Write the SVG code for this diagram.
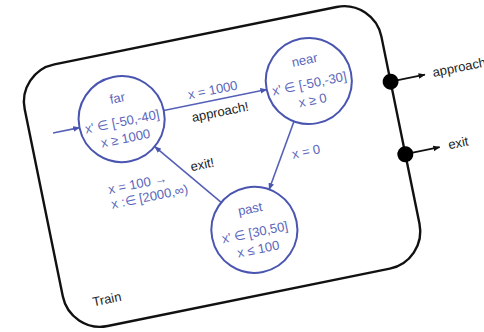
<svg xmlns="http://www.w3.org/2000/svg" width="484" height="332" viewBox="0 0 484 332">
<defs>
<style>
.box{fill:#fff;stroke:#111;stroke-width:2.4}
.loc{fill:none;stroke:#4a55b0;stroke-width:2}
.edge{fill:none;stroke:#5560b8;stroke-width:1.6}
.port{fill:none;stroke:#111;stroke-width:1.8}
.t{font-family:"Liberation Sans",Arial,sans-serif;font-size:13px}
.b{fill:#5a66bb}
.k{fill:#222}
.c{text-anchor:middle}
</style>
<marker id="ab" viewBox="0 0 10 10" refX="9" refY="5" markerWidth="7" markerHeight="7" markerUnits="userSpaceOnUse" orient="auto"><path d="M0,1 L10,5 L0,9 Z" fill="#4a55b0"/></marker>
<marker id="ak" viewBox="0 0 10 10" refX="9" refY="5" markerWidth="7" markerHeight="7" markerUnits="userSpaceOnUse" orient="auto"><path d="M0,1 L10,5 L0,9 Z" fill="#111"/></marker>
</defs>
<rect width="484" height="332" fill="#fff"/>
<g transform="rotate(-11.5 222 166)">
<g id="train">
<rect class="box" x="40" y="33" width="364" height="267" rx="38"/>
<text class="t k" x="68" y="278">Train</text>
</g>
<g id="connectors">
<line class="edge" x1="63" y1="100" x2="90" y2="100" marker-end="url(#ab)"/>
<line class="edge" x1="176" y1="100" x2="281" y2="100" marker-end="url(#ab)"/>
<line class="edge" x1="301.5" y1="136.6" x2="263.5" y2="198.4" marker-end="url(#ab)"/>
<line class="edge" x1="214" y1="201.4" x2="160" y2="133.6" marker-end="url(#ab)"/>
<line class="port" x1="404" y1="117" x2="439" y2="117" marker-end="url(#ak)"/>
<line class="port" x1="404" y1="191" x2="439" y2="191" marker-end="url(#ak)"/>
<text class="t b c" x="228" y="94">x = 1000</text>
<text class="t k c" x="231" y="117">approach!</text>
<text class="t b" x="293" y="173">x = 0</text>
<text class="t k c" x="203" y="165">exit!</text>
<text class="t b" x="106" y="171">x = 100 →</text>
<text class="t b" x="106" y="186">x :∈ [2000,∞)</text>
</g>
<g id="far">
<circle class="loc" cx="133" cy="100" r="43"/>
<text class="t b c" x="133" y="83">far</text>
<text class="t b c" x="133" y="107">x' ∈ [-50,-40]</text>
<text class="t b c" x="133" y="124">x ≥ 1000</text>
</g>
<g id="near">
<circle class="loc" cx="324" cy="100" r="43"/>
<text class="t b c" x="324" y="83">near</text>
<text class="t b c" x="324" y="107">x' ∈ [-50,-30]</text>
<text class="t b c" x="324" y="124">x ≥ 0</text>
</g>
<g id="past">
<circle class="loc" cx="241" cy="235" r="43"/>
<text class="t b c" x="241" y="218">past</text>
<text class="t b c" x="241" y="242">x' ∈ [30,50]</text>
<text class="t b c" x="241" y="259">x ≤ 100</text>
</g>
<g id="port-approach">
<circle cx="404" cy="117" r="8" fill="#000"/>
<text class="t k" x="447" y="121">approach</text>
</g>
<g id="port-exit">
<circle cx="404" cy="191" r="8" fill="#000"/>
<text class="t k" x="448" y="195">exit</text>
</g>
</g>
</svg>
